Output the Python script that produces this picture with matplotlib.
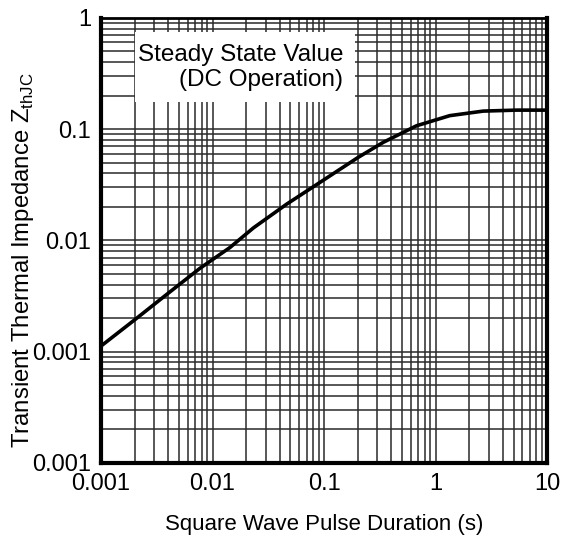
import matplotlib
matplotlib.use("Agg")
import matplotlib.pyplot as plt
from matplotlib.patches import Rectangle

plt.rcParams['font.family'] = ['Liberation Sans', 'DejaVu Sans']

# pulse duration (s) and Zth values
pulse_t = [0.001, 0.00202, 0.00388, 0.00771, 0.0143, 0.0232, 0.0461, 0.0917,
           0.202, 0.339, 0.674, 1.34, 2.67, 5.31, 10]
zth = [0.00112, 0.00194, 0.00326, 0.0056, 0.0086, 0.0129, 0.0211, 0.0331,
       0.0556, 0.0759, 0.107, 0.132, 0.145, 0.148, 0.148]

x_ticks = [0.001, 0.01, 0.1, 1, 10]
x_labels = ['0.001', '0.01', '0.1', '1', '10']
y_ticks = [1, 0.1, 0.01, 0.001, 0.0001]
y_labels = ['1', '0.1', '0.01', '0.001', '0.001']

fig = plt.figure(figsize=(5.69, 5.40), dpi=100)
ax = fig.add_axes([0.1775, 0.143, 0.784, 0.824])

ax.set_xscale('log')
ax.set_yscale('log')
ax.set_xlim(0.001, 10)
ax.set_ylim(0.0001, 1)

ax.grid(which='both', color='#2a2a2a', linewidth=1.1)
ax.set_axisbelow(True)

# white label box covering the grid
ax.add_patch(Rectangle((0.076, 0.811), 0.494, 0.157, transform=ax.transAxes,
                       facecolor='white', edgecolor='none', zorder=1.5))
ax.text(0.082, 0.888, 'Steady State Value\n(DC Operation)', transform=ax.transAxes,
        ha='left', va='center', multialignment='right', fontsize=17.5,
        linespacing=1.2, zorder=2)

ax.plot(pulse_t, zth, color='black', linewidth=2.6, zorder=3,
        solid_joinstyle='round')

ax.set_xticks(x_ticks)
ax.set_xticklabels(x_labels)
ax.set_yticks(y_ticks)
ax.set_yticklabels(y_labels)
ax.tick_params(which='both', length=0, labelsize=17, pad=7)

ax.set_xlabel('Square Wave Pulse Duration (s)', fontsize=16, labelpad=14)
ax.set_ylabel(r'Transient Thermal Impedance Z$_{\mathregular{thJC}}$', fontsize=17.2)
ax.yaxis.set_label_coords(-0.145, 0.455)

for side in ['left', 'bottom', 'right']:
    ax.spines[side].set_linewidth(3)
ax.spines['top'].set_linewidth(2)

fig.savefig('out.png', dpi=100)
